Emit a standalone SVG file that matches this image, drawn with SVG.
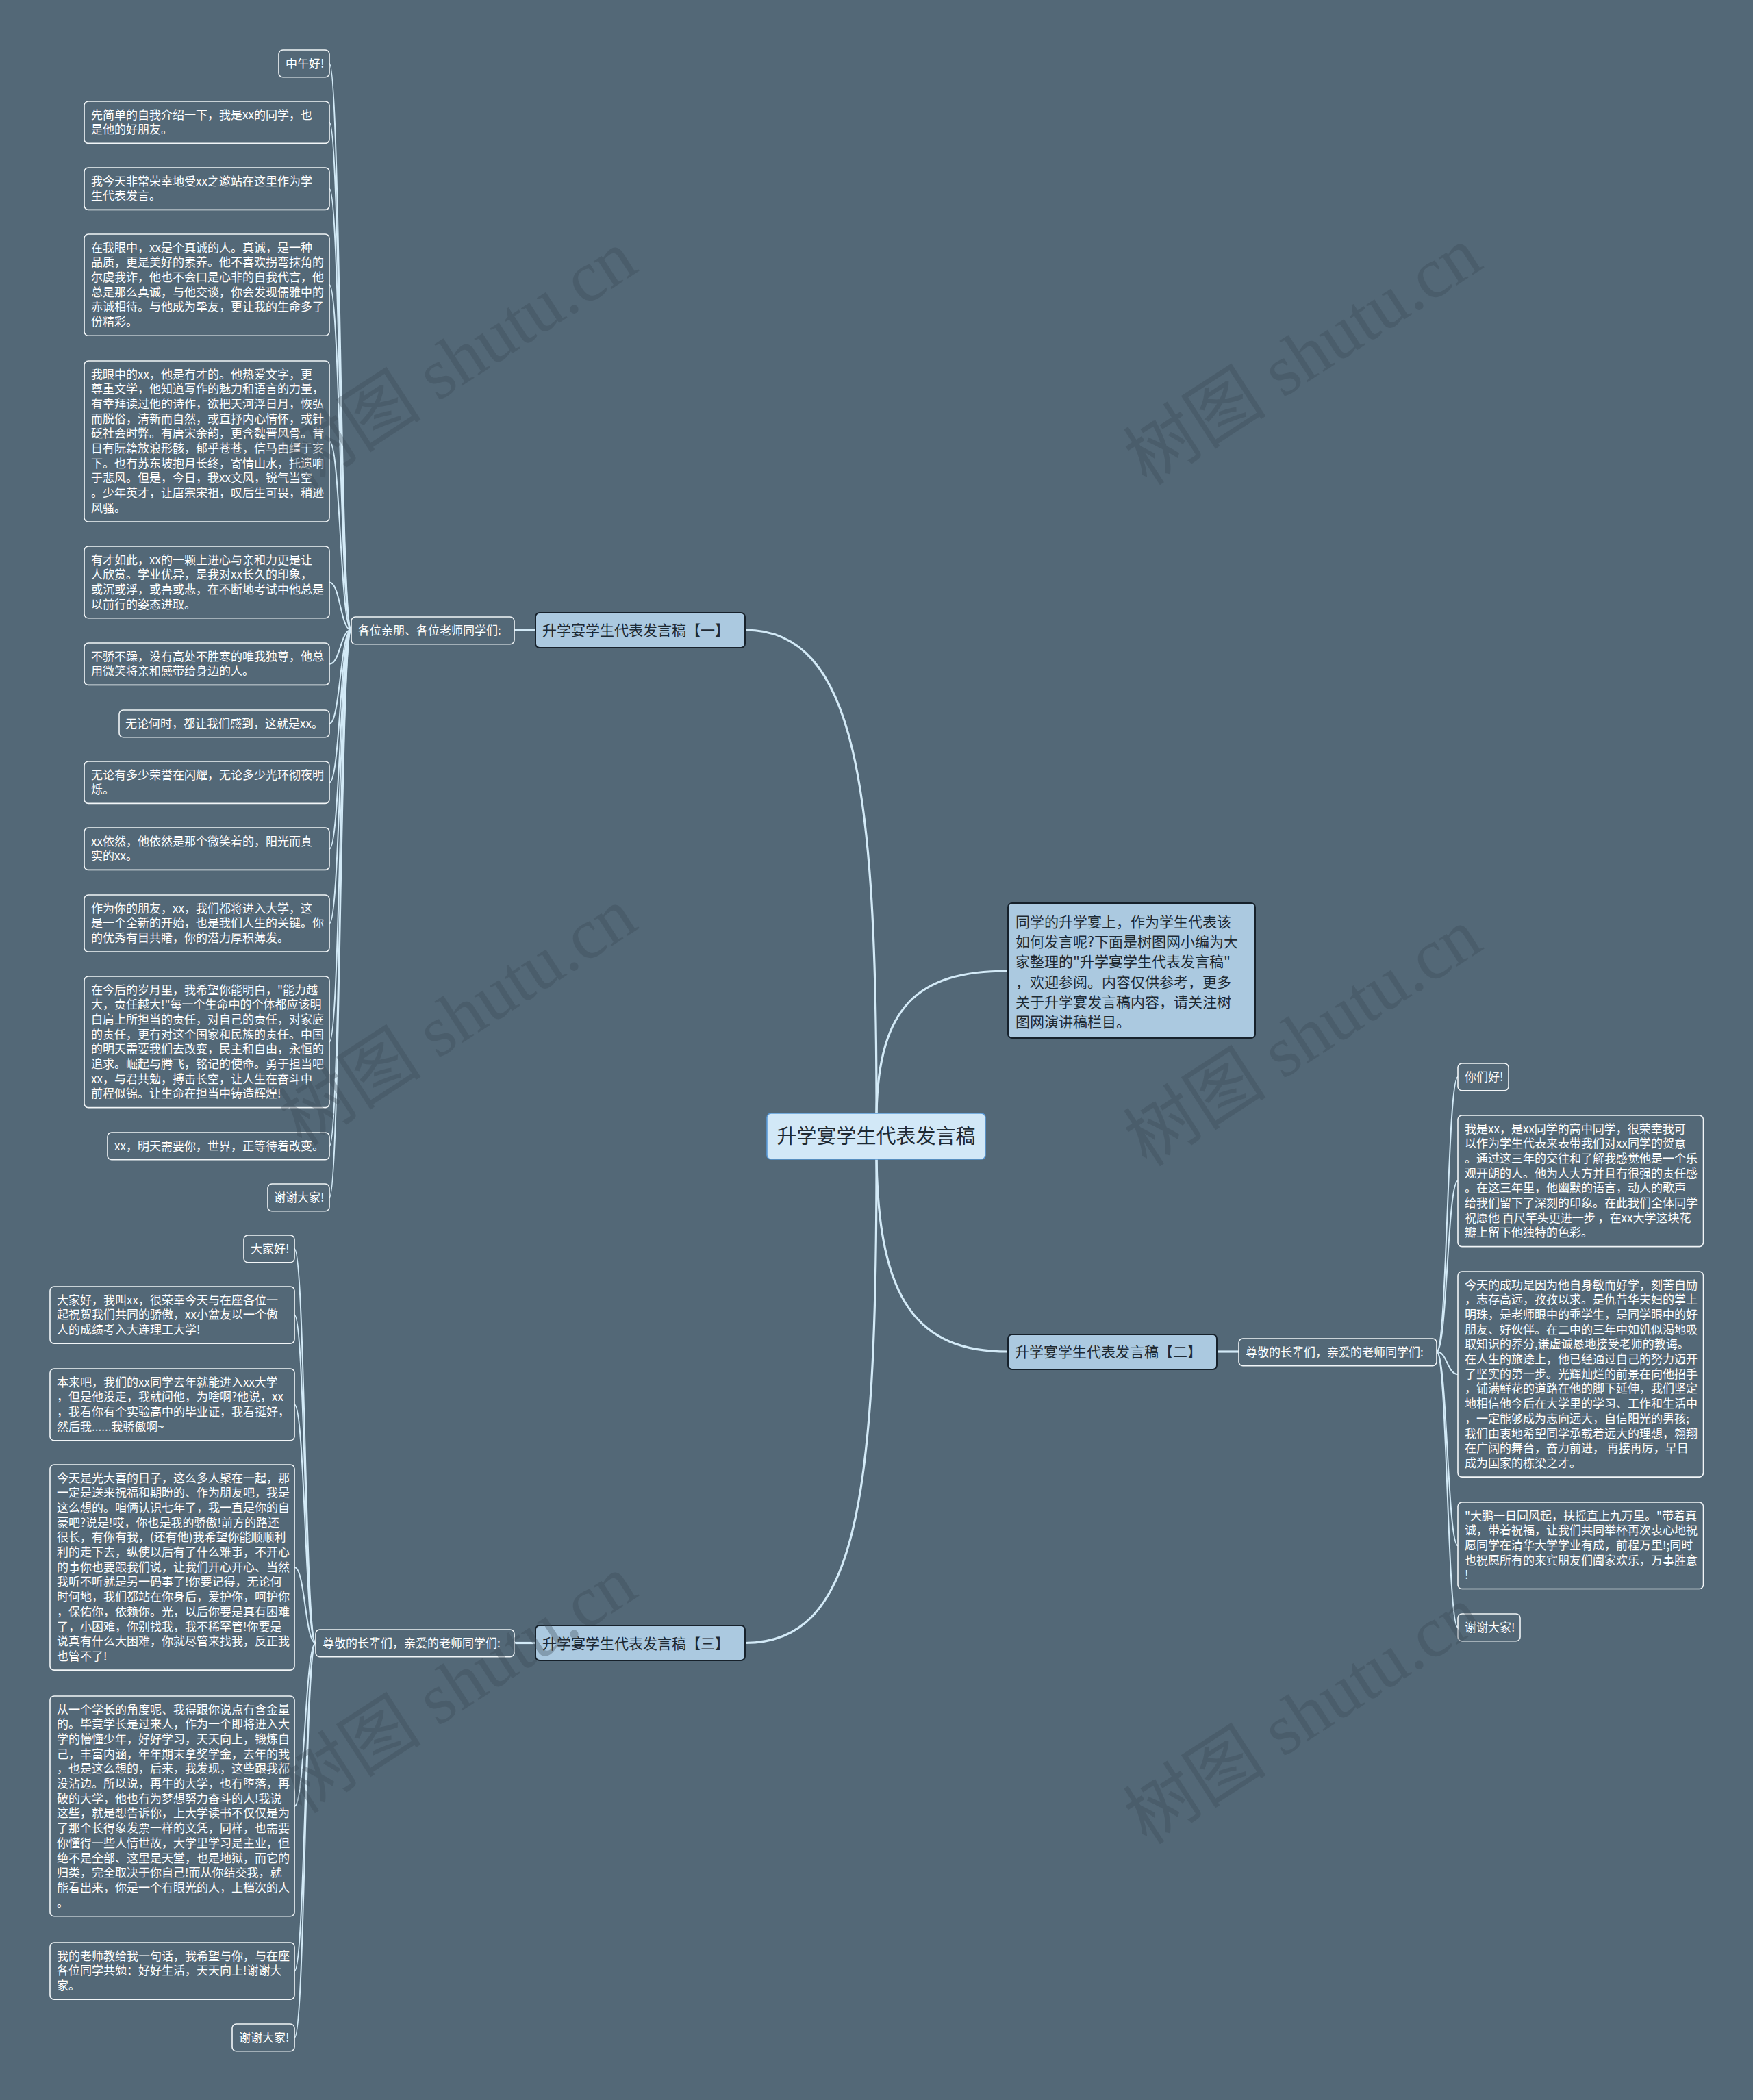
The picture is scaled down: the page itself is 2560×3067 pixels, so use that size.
<svg xmlns="http://www.w3.org/2000/svg" width="2560" height="3067" viewBox="0 0 2560 3067">
<style>
.bg{fill:#536877}
.leaf{fill:#536877;stroke:#f2f6f8;stroke-width:1.6}
.lt{font-family:"Noto Sans CJK SC","Noto Sans",sans-serif;font-size:17px;fill:#ffffff}
.br{fill:#abc9e0;stroke:#16212b;stroke-width:2}
.bt{font-family:"Noto Sans CJK SC","Noto Sans",sans-serif;font-size:21px;fill:#1e2a33}
.ctr{fill:#d2e8f7;stroke:#5a9ad8;stroke-width:1.6}
.ct{font-family:"Noto Sans CJK SC","Noto Sans",sans-serif;font-size:29px;fill:#1e2a33}
.main{fill:none;stroke:#d3eaf7;stroke-width:3.2}
.sub{fill:none;stroke:#d3eaf7;stroke-width:2}
.wm{font-family:"Liberation Serif","Noto Sans CJK SC",serif;font-size:105px;fill:#3c4a56;opacity:0.35}
</style>
<rect class="bg" x="0" y="0" width="2560" height="3067"/>

<g id="connectors">
<path class="main" d="M1280,1626 C1280,1150 1250,920 1088,920"/>
<path class="main" d="M1280,1626 C1283,1470 1340,1418 1472,1418"/>
<path class="main" d="M1280,1693 C1283,1900 1340,1974 1472,1974"/>
<path class="main" d="M1280,1693 C1280,2200 1250,2399.5 1088,2399.5"/>
<path class="main" d="M751,920 L782,920"/>
<path class="main" d="M1777,1974 L1809,1974"/>
<path class="main" d="M751,2399.5 L782,2399.5"/>
<path class="sub" d="M513,920 C497,920 497,92.9 481,92.9"/>
<path class="sub" d="M513,920 C497,920 497,178.7 481,178.7"/>
<path class="sub" d="M513,920 C497,920 497,275.7 481,275.7"/>
<path class="sub" d="M513,920 C497,920 497,416.1 481,416.1"/>
<path class="sub" d="M513,920 C497,920 497,644.5 481,644.5"/>
<path class="sub" d="M513,920 C497,920 497,850.4 481,850.4"/>
<path class="sub" d="M513,920 C497,920 497,969.7 481,969.7"/>
<path class="sub" d="M513,920 C497,920 497,1056.9 481,1056.9"/>
<path class="sub" d="M513,920 C497,920 497,1142.7 481,1142.7"/>
<path class="sub" d="M513,920 C497,920 497,1239.7 481,1239.7"/>
<path class="sub" d="M513,920 C497,920 497,1348.6 481,1348.6"/>
<path class="sub" d="M513,920 C497,920 497,1521.8 481,1521.8"/>
<path class="sub" d="M513,920 C497,920 497,1673.9 481,1673.9"/>
<path class="sub" d="M513,920 C497,920 497,1748.9 481,1748.9"/>
<path class="sub" d="M2098,1974 C2113.5,1974 2113.5,1572.9 2129,1572.9"/>
<path class="sub" d="M2098,1974 C2113.5,1974 2113.5,1724.8 2129,1724.8"/>
<path class="sub" d="M2098,1974 C2113.5,1974 2113.5,2007 2129,2007"/>
<path class="sub" d="M2098,1974 C2113.5,1974 2113.5,2257.3 2129,2257.3"/>
<path class="sub" d="M2098,1974 C2113.5,1974 2113.5,2376.9 2129,2376.9"/>
<path class="sub" d="M461,2399.5 C445.5,2399.5 445.5,1823.9 430,1823.9"/>
<path class="sub" d="M461,2399.5 C445.5,2399.5 445.5,1920.6 430,1920.6"/>
<path class="sub" d="M461,2399.5 C445.5,2399.5 445.5,2051.4 430,2051.4"/>
<path class="sub" d="M461,2399.5 C445.5,2399.5 445.5,2289 430,2289"/>
<path class="sub" d="M461,2399.5 C445.5,2399.5 445.5,2637.9 430,2637.9"/>
<path class="sub" d="M461,2399.5 C445.5,2399.5 445.5,2878.6 430,2878.6"/>
<path class="sub" d="M461,2399.5 C445.5,2399.5 445.5,2975.9 430,2975.9"/>
</g>

<g id="center">
<rect class="ctr" x="1120" y="1626" width="319" height="67" rx="6"/>
<text class="ct" x="1279.5" y="1670" text-anchor="middle">升学宴学生代表发言稿</text>
</g>

<g id="intro">
<rect class="br" x="1472" y="1319" width="361" height="197" rx="6"/>
<text class="bt" x="1483" y="1354"><tspan x="1483">同学的升学宴上，作为学生代表该</tspan><tspan x="1483" dy="29.2">如何发言呢?下面是树图网小编为大</tspan><tspan x="1483" dy="29.2">家整理的"升学宴学生代表发言稿"</tspan><tspan x="1483" dy="29.2">，欢迎参阅。内容仅供参考，更多</tspan><tspan x="1483" dy="29.2">关于升学宴发言稿内容，请关注树</tspan><tspan x="1483" dy="29.2">图网演讲稿栏目。</tspan></text>
</g>

<g id="branch1">
<rect class="br" x="782" y="895" width="306" height="51" rx="6"/>
<text class="bt" x="792" y="928">升学宴学生代表发言稿【一】</text>
</g>
<g id="label1">
<rect class="leaf" x="513" y="901" width="238" height="39.7" rx="6"/>
<text class="lt" x="523" y="926.5">各位亲朋、各位老师同学们:</text>
</g>

<g id="branch2">
<rect class="br" x="1472" y="1949" width="305" height="51" rx="6"/>
<text class="bt" x="1482" y="1982">升学宴学生代表发言稿【二】</text>
</g>
<g id="label2">
<rect class="leaf" x="1809" y="1955" width="289" height="39.7" rx="6"/>
<text class="lt" x="1819" y="1980.5">尊敬的长辈们，亲爱的老师同学们:</text>
</g>

<g id="branch3">
<rect class="br" x="782" y="2374" width="306" height="51" rx="6"/>
<text class="bt" x="792" y="2407.5">升学宴学生代表发言稿【三】</text>
</g>
<g id="label3">
<rect class="leaf" x="461" y="2380" width="290" height="39.7" rx="6"/>
<text class="lt" x="471" y="2405.5">尊敬的长辈们，亲爱的老师同学们:</text>
</g>

<g id="a1"><rect class="leaf" x="407" y="73" width="74" height="39.7" rx="6"/><text class="lt" x="417" y="98.5">中午好!</text></g>
<g id="a2"><rect class="leaf" x="123" y="148" width="358" height="61.4" rx="6"/><text class="lt" y="173.5"><tspan x="133">先简单的自我介绍一下，我是xx的同学，也</tspan><tspan x="133" dy="21.7">是他的好朋友。</tspan></text></g>
<g id="a3"><rect class="leaf" x="123" y="245" width="358" height="61.4" rx="6"/><text class="lt" y="270.5"><tspan x="133">我今天非常荣幸地受xx之邀站在这里作为学</tspan><tspan x="133" dy="21.7">生代表发言。</tspan></text></g>
<g id="a4"><rect class="leaf" x="123" y="342" width="358" height="148.2" rx="6"/><text class="lt" y="367.5"><tspan x="133">在我眼中，xx是个真诚的人。真诚，是一种</tspan><tspan x="133" dy="21.7">品质，更是美好的素养。他不喜欢拐弯抹角的</tspan><tspan x="133" dy="21.7">尔虞我诈，他也不会口是心非的自我代言，他</tspan><tspan x="133" dy="21.7">总是那么真诚，与他交谈，你会发现儒雅中的</tspan><tspan x="133" dy="21.7">赤诚相待。与他成为挚友，更让我的生命多了</tspan><tspan x="133" dy="21.7">份精彩。</tspan></text></g>
<g id="a5"><rect class="leaf" x="123" y="527" width="358" height="235" rx="6"/><text class="lt" y="552.5"><tspan x="133">我眼中的xx，他是有才的。他热爱文字，更</tspan><tspan x="133" dy="21.7">尊重文学，他知道写作的魅力和语言的力量，</tspan><tspan x="133" dy="21.7">有幸拜读过他的诗作，欲把天河浮日月，恢弘</tspan><tspan x="133" dy="21.7">而脱俗，清新而自然，或直抒内心情怀，或针</tspan><tspan x="133" dy="21.7">砭社会时弊。有唐宋余韵，更含魏晋风骨。昔</tspan><tspan x="133" dy="21.7">日有阮籍放浪形骸，郁乎苍苍，信马由缰于亥</tspan><tspan x="133" dy="21.7">下。也有苏东坡抱月长终，寄情山水，托遗响</tspan><tspan x="133" dy="21.7">于悲风。但是，今日，我xx文风，锐气当空</tspan><tspan x="133" dy="21.7">。少年英才，让唐宗宋祖，叹后生可畏，稍逊</tspan><tspan x="133" dy="21.7">风骚。</tspan></text></g>
<g id="a6"><rect class="leaf" x="123" y="798" width="358" height="104.8" rx="6"/><text class="lt" y="823.5"><tspan x="133">有才如此，xx的一颗上进心与亲和力更是让</tspan><tspan x="133" dy="21.7">人欣赏。学业优异，是我对xx长久的印象，</tspan><tspan x="133" dy="21.7">或沉或浮，或喜或悲，在不断地考试中他总是</tspan><tspan x="133" dy="21.7">以前行的姿态进取。</tspan></text></g>
<g id="a7"><rect class="leaf" x="123" y="939" width="358" height="61.4" rx="6"/><text class="lt" y="964.5"><tspan x="133">不骄不躁，没有高处不胜寒的唯我独尊，他总</tspan><tspan x="133" dy="21.7">用微笑将亲和感带给身边的人。</tspan></text></g>
<g id="a8"><rect class="leaf" x="174" y="1037" width="307" height="39.7" rx="6"/><text class="lt" x="183" y="1062.5">无论何时，都让我们感到，这就是xx。</text></g>
<g id="a9"><rect class="leaf" x="123" y="1112" width="358" height="61.4" rx="6"/><text class="lt" y="1137.5"><tspan x="133">无论有多少荣誉在闪耀，无论多少光环彻夜明</tspan><tspan x="133" dy="21.7">烁。</tspan></text></g>
<g id="a10"><rect class="leaf" x="123" y="1209" width="358" height="61.4" rx="6"/><text class="lt" y="1234.5"><tspan x="133">xx依然，他依然是那个微笑着的，阳光而真</tspan><tspan x="133" dy="21.7">实的xx。</tspan></text></g>
<g id="a11"><rect class="leaf" x="123" y="1307" width="358" height="83.1" rx="6"/><text class="lt" y="1332.5"><tspan x="133">作为你的朋友，xx，我们都将进入大学，这</tspan><tspan x="133" dy="21.7">是一个全新的开始，也是我们人生的关键。你</tspan><tspan x="133" dy="21.7">的优秀有目共睹，你的潜力厚积薄发。</tspan></text></g>
<g id="a12"><rect class="leaf" x="123" y="1426" width="358" height="191.6" rx="6"/><text class="lt" y="1451.5"><tspan x="133">在今后的岁月里，我希望你能明白，"能力越</tspan><tspan x="133" dy="21.7">大，责任越大!"每一个生命中的个体都应该明</tspan><tspan x="133" dy="21.7">白肩上所担当的责任，对自己的责任，对家庭</tspan><tspan x="133" dy="21.7">的责任，更有对这个国家和民族的责任。中国</tspan><tspan x="133" dy="21.7">的明天需要我们去改变，民主和自由，永恒的</tspan><tspan x="133" dy="21.7">追求。崛起与腾飞，铭记的使命。勇于担当吧</tspan><tspan x="133" dy="21.7">xx，与君共勉，搏击长空，让人生在奋斗中</tspan><tspan x="133" dy="21.7">前程似锦。让生命在担当中铸造辉煌!</tspan></text></g>
<g id="a13"><rect class="leaf" x="157" y="1654" width="324" height="39.7" rx="6"/><text class="lt" x="167" y="1679.5">xx，明天需要你，世界，正等待着改变。</text></g>
<g id="a14"><rect class="leaf" x="391" y="1729" width="90" height="39.7" rx="6"/><text class="lt" x="400" y="1754.5">谢谢大家!</text></g>

<g id="b1"><rect class="leaf" x="2129" y="1553" width="74" height="39.7" rx="6"/><text class="lt" x="2139" y="1578.5">你们好!</text></g>
<g id="b2"><rect class="leaf" x="2129" y="1629" width="358.5" height="191.6" rx="6"/><text class="lt" y="1654.5"><tspan x="2139">我是xx，是xx同学的高中同学，很荣幸我可</tspan><tspan x="2139" dy="21.7">以作为学生代表来表带我们对xx同学的贺意</tspan><tspan x="2139" dy="21.7">。通过这三年的交往和了解我感觉他是一个乐</tspan><tspan x="2139" dy="21.7">观开朗的人。他为人大方并且有很强的责任感</tspan><tspan x="2139" dy="21.7">。在这三年里，他幽默的语言，动人的歌声</tspan><tspan x="2139" dy="21.7">给我们留下了深刻的印象。在此我们全体同学</tspan><tspan x="2139" dy="21.7">祝愿他 百尺竿头更进一步 ，在xx大学这块花</tspan><tspan x="2139" dy="21.7">瓣上留下他独特的色彩。</tspan></text></g>
<g id="b3"><rect class="leaf" x="2129" y="1857" width="358.5" height="300.1" rx="6"/><text class="lt" y="1882.5"><tspan x="2139">今天的成功是因为他自身敏而好学，刻苦自励</tspan><tspan x="2139" dy="21.7">，志存高远，孜孜以求。是仇昔华夫妇的掌上</tspan><tspan x="2139" dy="21.7">明珠，是老师眼中的乖学生，是同学眼中的好</tspan><tspan x="2139" dy="21.7">朋友、好伙伴。在二中的三年中如饥似渴地吸</tspan><tspan x="2139" dy="21.7">取知识的养分,谦虚诚恳地接受老师的教诲。</tspan><tspan x="2139" dy="21.7">在人生的旅途上，他已经通过自己的努力迈开</tspan><tspan x="2139" dy="21.7">了坚实的第一步。光辉灿烂的前景在向他招手</tspan><tspan x="2139" dy="21.7">，铺满鲜花的道路在他的脚下延伸，我们坚定</tspan><tspan x="2139" dy="21.7">地相信他今后在大学里的学习、工作和生活中</tspan><tspan x="2139" dy="21.7">，一定能够成为志向远大，自信阳光的男孩;</tspan><tspan x="2139" dy="21.7">我们由衷地希望同学承载着远大的理想，翱翔</tspan><tspan x="2139" dy="21.7">在广阔的舞台，奋力前进， 再接再厉，早日</tspan><tspan x="2139" dy="21.7">成为国家的栋梁之才。</tspan></text></g>
<g id="b4"><rect class="leaf" x="2129" y="2194" width="358.5" height="126.5" rx="6"/><text class="lt" y="2219.5"><tspan x="2139">"大鹏一日同风起，扶摇直上九万里。"带着真</tspan><tspan x="2139" dy="21.7">诚，带着祝福，让我们共同举杯再次衷心地祝</tspan><tspan x="2139" dy="21.7">愿同学在清华大学学业有成，前程万里!;同时</tspan><tspan x="2139" dy="21.7">也祝愿所有的来宾朋友们阖家欢乐，万事胜意</tspan><tspan x="2139" dy="21.7">!</tspan></text></g>
<g id="b5"><rect class="leaf" x="2129" y="2357" width="91" height="39.7" rx="6"/><text class="lt" x="2139" y="2382.5">谢谢大家!</text></g>

<g id="c1"><rect class="leaf" x="356" y="1804" width="74" height="39.7" rx="6"/><text class="lt" x="366" y="1829.5">大家好!</text></g>
<g id="c2"><rect class="leaf" x="73" y="1879" width="357" height="83.1" rx="6"/><text class="lt" y="1904.5"><tspan x="83">大家好，我叫xx，很荣幸今天与在座各位一</tspan><tspan x="83" dy="21.7">起祝贺我们共同的骄傲，xx小盆友以一个傲</tspan><tspan x="83" dy="21.7">人的成绩考入大连理工大学!</tspan></text></g>
<g id="c3"><rect class="leaf" x="73" y="1999" width="357" height="104.8" rx="6"/><text class="lt" y="2024.5"><tspan x="83">本来吧，我们的xx同学去年就能进入xx大学</tspan><tspan x="83" dy="21.7">，但是他没走，我就问他，为啥啊?他说，xx</tspan><tspan x="83" dy="21.7">，我看你有个实验高中的毕业证，我看挺好，</tspan><tspan x="83" dy="21.7">然后我......我骄傲啊~</tspan></text></g>
<g id="c4"><rect class="leaf" x="73" y="2139" width="357" height="300.1" rx="6"/><text class="lt" y="2164.5"><tspan x="83">今天是光大喜的日子，这么多人聚在一起，那</tspan><tspan x="83" dy="21.7">一定是送来祝福和期盼的、作为朋友吧，我是</tspan><tspan x="83" dy="21.7">这么想的。咱俩认识七年了，我一直是你的自</tspan><tspan x="83" dy="21.7">豪吧?说是!哎，你也是我的骄傲!前方的路还</tspan><tspan x="83" dy="21.7">很长，有你有我，(还有他)我希望你能顺顺利</tspan><tspan x="83" dy="21.7">利的走下去，纵使以后有了什么难事，不开心</tspan><tspan x="83" dy="21.7">的事你也要跟我们说，让我们开心开心、当然</tspan><tspan x="83" dy="21.7">我听不听就是另一码事了!你要记得，无论何</tspan><tspan x="83" dy="21.7">时何地，我们都站在你身后，爱护你，呵护你</tspan><tspan x="83" dy="21.7">，保佑你，依赖你。光，以后你要是真有困难</tspan><tspan x="83" dy="21.7">了，小困难，你别找我，我不稀罕管!你要是</tspan><tspan x="83" dy="21.7">说真有什么大困难，你就尽管来找我，反正我</tspan><tspan x="83" dy="21.7">也管不了!</tspan></text></g>
<g id="c5"><rect class="leaf" x="73" y="2477" width="357" height="321.8" rx="6"/><text class="lt" y="2502.5"><tspan x="83">从一个学长的角度呢、我得跟你说点有含金量</tspan><tspan x="83" dy="21.7">的。毕竟学长是过来人，作为一个即将进入大</tspan><tspan x="83" dy="21.7">学的懵懂少年，好好学习，天天向上，锻炼自</tspan><tspan x="83" dy="21.7">己，丰富内涵，年年期末拿奖学金，去年的我</tspan><tspan x="83" dy="21.7">，也是这么想的，后来，我发现，这些跟我都</tspan><tspan x="83" dy="21.7">没沾边。所以说，再牛的大学，也有堕落，再</tspan><tspan x="83" dy="21.7">破的大学，他也有为梦想努力奋斗的人!我说</tspan><tspan x="83" dy="21.7">这些，就是想告诉你，上大学读书不仅仅是为</tspan><tspan x="83" dy="21.7">了那个长得象发票一样的文凭，同样，也需要</tspan><tspan x="83" dy="21.7">你懂得一些人情世故，大学里学习是主业，但</tspan><tspan x="83" dy="21.7">绝不是全部、这里是天堂，也是地狱，而它的</tspan><tspan x="83" dy="21.7">归类，完全取决于你自己!而从你结交我，就</tspan><tspan x="83" dy="21.7">能看出来，你是一个有眼光的人，上档次的人</tspan><tspan x="83" dy="21.7">。</tspan></text></g>
<g id="c6"><rect class="leaf" x="73" y="2837" width="357" height="83.1" rx="6"/><text class="lt" y="2862.5"><tspan x="83">我的老师教给我一句话，我希望与你，与在座</tspan><tspan x="83" dy="21.7">各位同学共勉：好好生活，天天向上!谢谢大</tspan><tspan x="83" dy="21.7">家。</tspan></text></g>
<g id="c7"><rect class="leaf" x="339" y="2956" width="91" height="39.7" rx="6"/><text class="lt" x="349" y="2981.5">谢谢大家!</text></g>

<g id="watermarks">
<text class="wm" text-anchor="middle" transform="translate(688,555) rotate(-33)">树图 shutu.cn</text>
<text class="wm" text-anchor="middle" transform="translate(1922,550) rotate(-33)">树图 shutu.cn</text>
<text class="wm" text-anchor="middle" transform="translate(688,1515) rotate(-33)">树图 shutu.cn</text>
<text class="wm" text-anchor="middle" transform="translate(1922,1545) rotate(-33)">树图 shutu.cn</text>
<text class="wm" text-anchor="middle" transform="translate(688,2490) rotate(-33)">树图 shutu.cn</text>
<text class="wm" text-anchor="middle" transform="translate(1922,2535) rotate(-33)">树图 shutu.cn</text>
</g>
</svg>
